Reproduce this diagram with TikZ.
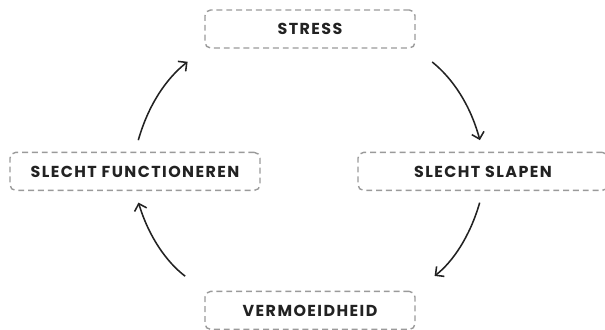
\documentclass[tikz,border=0pt]{standalone}
\usepackage{fontspec}
\setmainfont{Poppins}[LetterSpace=9]
\usepackage{xcolor}
\usetikzlibrary{positioning,arrows.meta}
\definecolor{dashgray}{HTML}{9A9A9A}
\definecolor{ink}{HTML}{222222}

\begin{document}
\begin{tikzpicture}[
  box/.style={draw=dashgray, dashed, dash pattern=on 4.2pt off 2.8pt, line width=1pt,
    rounded corners=4pt, minimum height=0.95cm, text=ink, font=\fontsize{11.3}{13}\selectfont\bfseries},
  cyc/.style={-{Straight Barb[length=4.5pt,width=9pt,line width=1.1pt]}, line width=1.1pt, ink, bend left=18}
]
\useasboundingbox (0,0) rectangle (15.125,-8.225);
\node[box, minimum width=5.25cm] (stress) at (7.75,-0.725) {STRESS};
\node[box, minimum width=6.25cm, below=2.575cm of stress, xshift=4.325cm] (slapen) {SLECHT SLAPEN};
\node[box, minimum width=5.25cm, below=6.05cm of stress] (verm) {VERMOEIDHEID};
\node[box, minimum width=6.25cm, below=2.575cm of stress, xshift=-4.375cm] (funct) {SLECHT FUNCTIONEREN};

\draw[cyc, shorten <=0.53cm, shorten >=0.3cm] (stress.south east) to (slapen.north);
\draw[cyc, shorten <=0.3cm, shorten >=0.6cm] (slapen.south) to (verm.north east);
\draw[cyc, shorten <=0.6cm, shorten >=0.3cm] (verm.north west) to (funct.south);
\draw[cyc, shorten <=0.3cm, shorten >=0.53cm] (funct.north) to (stress.south west);
\end{tikzpicture}
\end{document}
